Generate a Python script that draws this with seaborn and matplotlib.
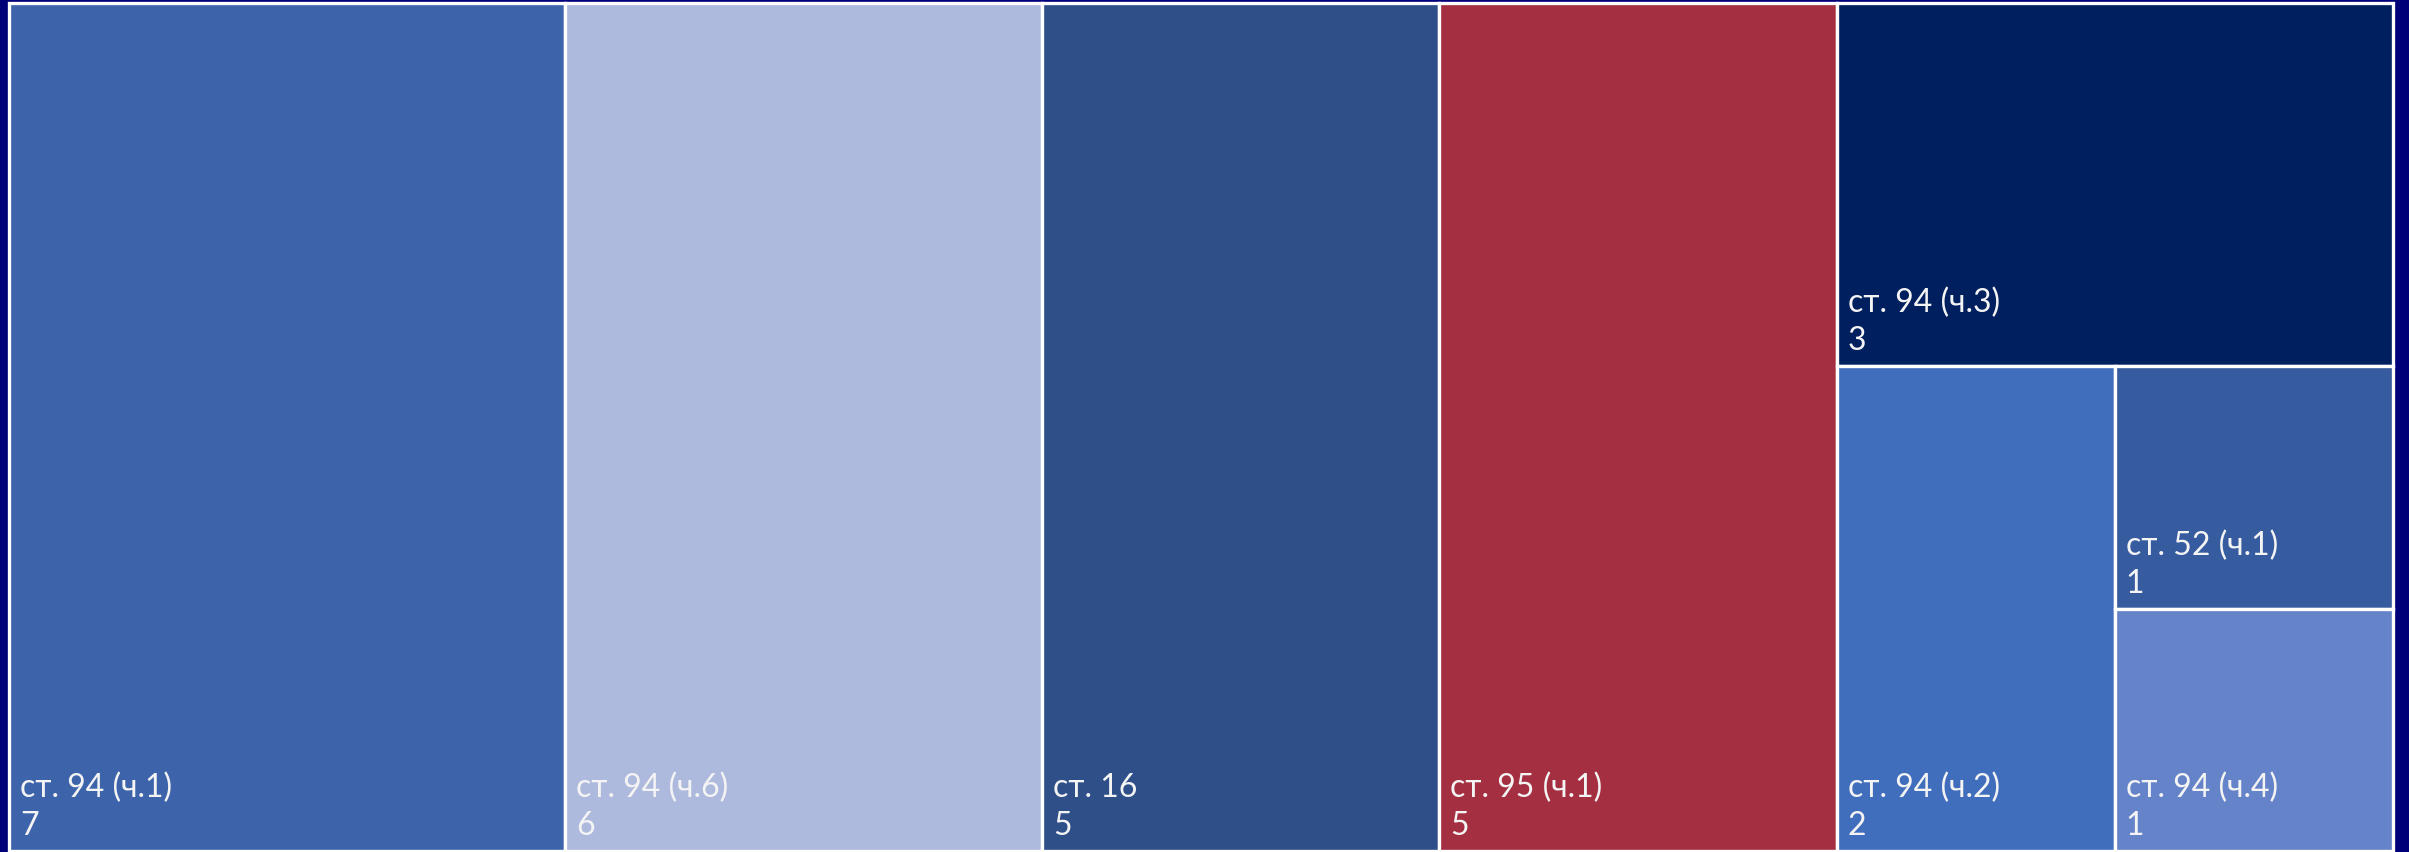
import matplotlib
matplotlib.use("Agg")
import matplotlib.pyplot as plt
import seaborn as sns
import numpy as np

# ---- data ----
labels = ["ст. 94 (ч.1)", "ст. 94 (ч.6)", "ст. 16", "ст. 95 (ч.1)",
          "ст. 94 (ч.3)", "ст. 94 (ч.2)", "ст. 52 (ч.1)", "ст. 94 (ч.4)"]
values = [7, 6, 5, 5, 3, 2, 1, 1]
colors = ["#3D64AA", "#ADB9DD", "#2E4F88", "#A32F40",
          "#001F5E", "#416EBC", "#365B9E", "#6583C8"]

sns.set_theme(style="white")
plt.rcParams["font.family"] = ["Lato", "DejaVu Sans"]

W_PX, H_PX = 2409, 853
fig = plt.figure(figsize=(W_PX / 100, H_PX / 100), dpi=100)
fig.patch.set_facecolor("#000078")

# axes area in pixels
left, top, right, bottom = 9, 4, 2393, 852
ax = fig.add_axes([left / W_PX, 1 - bottom / H_PX,
                   (right - left) / W_PX, (bottom - top) / H_PX])
W, H = right - left, bottom - top
ax.set_xlim(0, W)
ax.set_ylim(H, 0)
ax.axis("off")


def layout(vals, x, y, w, h):
    """Strip one tile at a time off the longer side of the remaining region."""
    rects = []
    remaining = float(sum(vals))
    for v in vals:
        frac = v / remaining
        if w >= h:
            tw = w * frac
            rects.append((x, y, tw, h))
            x += tw
            w -= tw
        else:
            th = h * frac
            rects.append((x, y, w, th))
            y += th
            h -= th
        remaining -= v
    return rects


rects = layout(values, 0, 0, W, H)
palette = sns.color_palette(colors)

for (x, y, w, h), lab, val, col in zip(rects, labels, values, palette):
    ax.bar(x, h, width=w, bottom=y, align="edge", color=col,
           edgecolor="white", linewidth=2.4, clip_on=False)
    ax.text(x + 11, y + h - 55, lab, color="#F4F4F4", fontsize=23,
            va="baseline", ha="left")
    ax.text(x + 11, y + h - 17, str(val), color="#F4F4F4", fontsize=23,
            va="baseline", ha="left")

fig.savefig("out.png", dpi=100, facecolor=fig.get_facecolor())
